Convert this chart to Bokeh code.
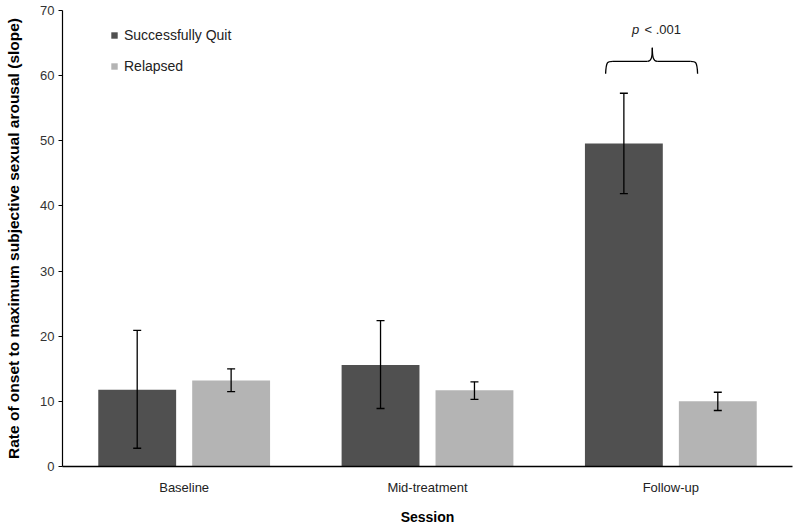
from bokeh.plotting import figure
from bokeh.models import (ColumnDataSource, Whisker, TeeHead, Range1d, FixedTicker,
                          Legend, LegendItem)
from bokeh.core.properties import value
from bokeh.embed import file_html
from bokeh.resources import INLINE

sessions = ["Baseline", "Mid-treatment", "Follow-up"]
quit_mean = [11.8, 15.6, 49.6]
quit_lower = [2.8, 8.9, 41.9]
quit_upper = [20.9, 22.4, 57.3]
relapsed_mean = [13.2, 11.7, 10.0]
relapsed_lower = [11.5, 10.3, 8.6]
relapsed_upper = [15.0, 13.0, 11.4]
y_ticks = [0, 10, 20, 30, 40, 50, 60, 70]

DARK = "#505050"
LIGHT = "#b4b4b4"
FONT = "Liberation Sans"
OFF = 0.193
BW = 0.32

centers = [i + 0.5 for i in range(len(sessions))]

p = figure(width=800, height=527, output_backend="svg", toolbar_location=None,
           x_range=Range1d(0, 3), y_range=Range1d(0, 70))
p.min_border_left = 62
p.min_border_right = 8
p.min_border_top = 10
p.min_border_bottom = 61
p.outline_line_color = None
p.grid.visible = False
p.background_fill_color = "white"
p.border_fill_color = "white"

src_q = ColumnDataSource(dict(x=[c - OFF for c in centers], top=quit_mean,
                              lower=quit_lower, upper=quit_upper))
src_r = ColumnDataSource(dict(x=[c + OFF for c in centers], top=relapsed_mean,
                              lower=relapsed_lower, upper=relapsed_upper))

rq = p.vbar(x="x", top="top", bottom=0, width=BW, source=src_q,
            fill_color=DARK, line_color=None)
rr = p.vbar(x="x", top="top", bottom=0, width=BW, source=src_r,
            fill_color=LIGHT, line_color=None)

for src in (src_q, src_r):
    w = Whisker(base="x", lower="lower", upper="upper", source=src, level="overlay",
                line_color="black", line_width=1.3,
                upper_head=TeeHead(size=8, line_color="black", line_width=1.3),
                lower_head=TeeHead(size=8, line_color="black", line_width=1.3))
    p.add_layout(w)

# significance brace over Follow-up
LW = 1.3
p.bezier(x0=[2.232], y0=[60.3], x1=[2.262], y1=[62.2], cx0=[2.234], cy0=[62.2], cx1=[2.240], cy1=[62.2],
         line_color="black", line_width=LW)
p.segment(x0=[2.262], y0=[62.2], x1=[2.404], y1=[62.2], line_color="black", line_width=LW)
p.bezier(x0=[2.404], y0=[62.2], x1=[2.424], y1=[64.3], cx0=[2.420], cy0=[62.2], cx1=[2.424], cy1=[62.8],
         line_color="black", line_width=LW)
p.bezier(x0=[2.444], y0=[62.2], x1=[2.424], y1=[64.3], cx0=[2.428], cy0=[62.2], cx1=[2.424], cy1=[62.8],
         line_color="black", line_width=LW)
p.segment(x0=[2.444], y0=[62.2], x1=[2.580], y1=[62.2], line_color="black", line_width=LW)
p.bezier(x0=[2.580], y0=[62.2], x1=[2.610], y1=[60.3], cx0=[2.602], cy0=[62.2], cx1=[2.608], cy1=[62.2],
         line_color="black", line_width=LW)

p.text(x=[2.340], y=[67.1], text=["p"], text_font=value(FONT), text_font_style="italic",
       text_font_size="13px", text_align="left", text_baseline="middle", text_color="#222222")
p.text(x=[2.392], y=[67.1], text=["< .001"], text_font=value(FONT),
       text_font_size="13px", text_align="left", text_baseline="middle", text_color="#222222")

legend = Legend(items=[LegendItem(label="Successfully Quit", renderers=[rq]),
                       LegendItem(label="Relapsed", renderers=[rr])],
                location=(48, 392), orientation="vertical")
legend.glyph_width = 8
legend.glyph_height = 8
legend.label_height = 14
legend.spacing = 15
legend.padding = 0
legend.margin = 0
legend.label_standoff = 6
legend.label_text_font = FONT
legend.label_text_font_size = "14px"
legend.label_text_color = "#222222"
legend.border_line_alpha = 0
legend.background_fill_alpha = 0
p.add_layout(legend)

# axes
p.xaxis.ticker = FixedTicker(ticks=centers)
p.xaxis.major_label_overrides = {c: s for c, s in zip(centers, sessions)}
p.xaxis.major_tick_line_color = None
p.xaxis.minor_tick_line_color = None
p.xaxis.axis_line_color = "black"
p.xaxis.axis_line_width = 1.5
p.xaxis.major_label_text_font = FONT
p.xaxis.major_label_text_font_size = "13px"
p.xaxis.major_label_text_color = "#222222"
p.xaxis.major_label_standoff = 7
p.xaxis.axis_label = "Session"
p.xaxis.axis_label_text_font = FONT
p.xaxis.axis_label_text_font_style = "bold"
p.xaxis.axis_label_text_font_size = "14px"
p.xaxis.axis_label_text_color = "black"
p.xaxis.axis_label_standoff = 11

p.yaxis.ticker = FixedTicker(ticks=y_ticks)
p.yaxis.minor_tick_line_color = None
p.yaxis.major_tick_out = 4
p.yaxis.major_tick_in = 0
p.yaxis.major_tick_line_color = "black"
p.yaxis.axis_line_color = "black"
p.yaxis.axis_line_width = 1.2
p.yaxis.major_label_text_font = FONT
p.yaxis.major_label_text_font_size = "13px"
p.yaxis.major_label_text_color = "#333333"
p.yaxis.major_label_standoff = 4
p.yaxis.axis_label = "Rate of onset to maximum subjective sexual arousal (slope)"
p.yaxis.axis_label_text_font = FONT
p.yaxis.axis_label_text_font_style = "bold"
p.yaxis.axis_label_text_font_size = "15.5px"
p.yaxis.axis_label_text_color = "black"
p.yaxis.axis_label_standoff = 15

open("out.html", "w").write(file_html(p, INLINE))
